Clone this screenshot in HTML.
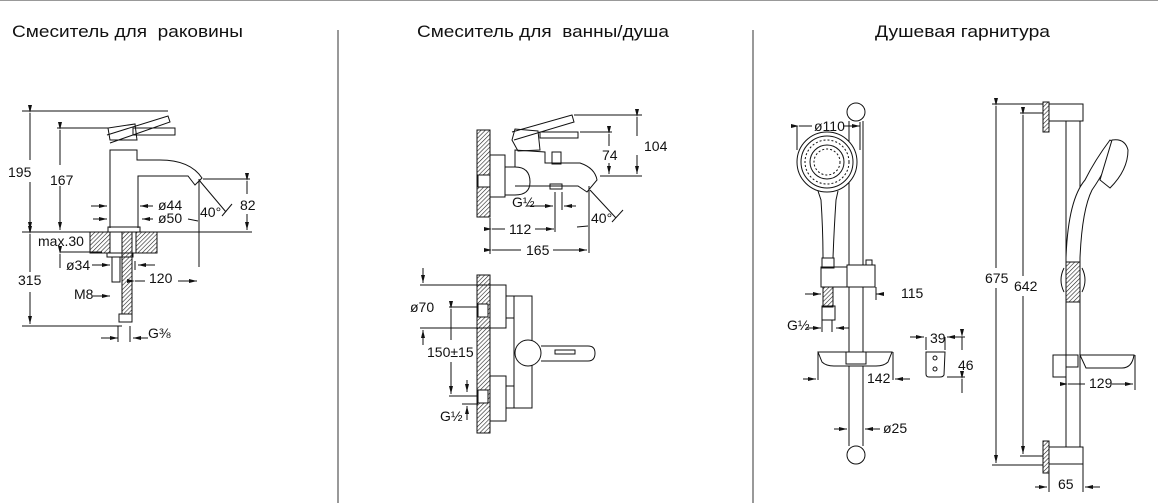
<!DOCTYPE html>
<html><head><meta charset="utf-8"><style>
html,body{margin:0;padding:0;background:#fff;}
svg{display:block;}
text{font-family:"Liberation Sans",sans-serif;fill:#111;}
.t{font-size:17px;}
.d{font-size:14px;}
</style></head><body>
<svg width="1158" height="503" viewBox="0 0 1158 503" xmlns="http://www.w3.org/2000/svg">
<defs>
<pattern id="h" width="3" height="3" patternUnits="userSpaceOnUse" patternTransform="rotate(45)">
<line x1="0" y1="0" x2="0" y2="3" stroke="#222" stroke-width="1.2"/>
</pattern>
<marker id="a" markerWidth="8" markerHeight="6" refX="8" refY="3" orient="auto"><path d="M0,1 L8,3 L0,5z" fill="#111"/></marker>
</defs>
<line x1="0" y1="0.5" x2="1158" y2="0.5" stroke="#999"/>
<line x1="338" y1="30" x2="338" y2="503" stroke="#333"/>
<line x1="753" y1="30" x2="753" y2="503" stroke="#333"/>
<text class="t" x="12" y="37" textLength="231" lengthAdjust="spacingAndGlyphs">Смеситель для&#160;&#160;раковины</text>
<text class="t" x="417" y="37" textLength="252" lengthAdjust="spacingAndGlyphs">Смеситель для&#160;&#160;ванны/душа</text>
<text class="t" x="875" y="37" textLength="175" lengthAdjust="spacingAndGlyphs">Душевая гарнитура</text>

<g fill="none" stroke="#111" stroke-width="1">
<!-- Panel 1 -->
<line x1="22" y1="111" x2="168" y2="111"/>
<line x1="57" y1="128" x2="108" y2="128"/>
<line x1="22" y1="232" x2="252" y2="232"/>
<line x1="22" y1="326" x2="122" y2="326"/>
<line x1="30" y1="113" x2="30" y2="160" marker-start="url(#a)"/>
<line x1="30" y1="182" x2="30" y2="230" marker-end="url(#a)"/>
<line x1="60" y1="130" x2="60" y2="165" marker-start="url(#a)"/>
<line x1="60" y1="186" x2="60" y2="230" marker-end="url(#a)"/>
<line x1="30" y1="234" x2="30" y2="272" marker-start="url(#a)"/>
<line x1="30" y1="292" x2="30" y2="324" marker-end="url(#a)"/>
<path d="M110,228 V150 H137 V160 H160 Q190,160 202,178 L195,185 L188,176 H138 V228"/>
<path d="M110,140 L108,128 L135,124 L137,140 Z"/>
<path d="M107,135 L168,116 L170,122 L110,143"/>
<rect x="133" y="128" width="42" height="7"/>
<rect x="108" y="227" width="32" height="5"/>
<rect x="90" y="232" width="67" height="21" fill="url(#h)"/>
<rect x="110" y="232" width="26" height="21" fill="#fff"/>
<rect x="107" y="253" width="26" height="4"/>
<rect x="112" y="257" width="8" height="25"/>
<rect x="122" y="232" width="10" height="82" fill="url(#h)"/>
<rect x="119" y="314" width="13" height="8"/>
<line x1="199" y1="179" x2="199" y2="267"/>
<line x1="203" y1="179" x2="250" y2="179"/>
<line x1="247" y1="181" x2="247" y2="194" marker-start="url(#a)"/>
<line x1="247" y1="214" x2="247" y2="230" marker-end="url(#a)"/>
<line x1="199" y1="180" x2="226" y2="212"/><line x1="222" y1="216" x2="232" y2="204"/>
<line x1="91" y1="206" x2="107" y2="206" marker-end="url(#a)"/>
<line x1="153" y1="206" x2="140" y2="206" marker-end="url(#a)"/>
<line x1="93" y1="219" x2="107" y2="219" marker-end="url(#a)"/>
<line x1="153" y1="219" x2="142" y2="219" marker-end="url(#a)"/>
<line x1="188" y1="219" x2="198" y2="221"/>
<line x1="60" y1="252" x2="102" y2="252"/>
<line x1="60" y1="254" x2="60" y2="268" marker-start="url(#a)"/>
<line x1="92" y1="265" x2="110" y2="265" marker-end="url(#a)"/>
<line x1="155" y1="265" x2="138" y2="265" marker-end="url(#a)"/>
<line x1="135" y1="261" x2="135" y2="270"/>
<line x1="135" y1="281" x2="145" y2="281" marker-start="url(#a)"/>
<line x1="178" y1="281" x2="197" y2="281" marker-end="url(#a)"/>
<line x1="93" y1="296" x2="110" y2="296" marker-end="url(#a)"/>
<line x1="101" y1="338" x2="118" y2="338" marker-end="url(#a)"/>
<line x1="148" y1="338" x2="133" y2="338" marker-end="url(#a)"/>
<line x1="118" y1="326" x2="118" y2="342"/><line x1="130" y1="326" x2="130" y2="342"/>

<!-- Panel 2 top -->
<rect x="477" y="130" width="13" height="87" fill="url(#h)"/>
<rect x="478" y="175" width="12" height="12" fill="#fff"/>
<rect x="490" y="155" width="15" height="42"/>
<path d="M505,167 H515 Q530,167 530,182 Q530,195 515,195 H505"/>
<path d="M515,167 V150 L545,152 V163 H580 Q595,168 597,180 L587,192 L578,186 H515"/>
<rect x="552" y="152" width="9" height="12"/>
<rect x="550" y="184" width="12" height="5"/>
<path d="M512,140 L515,129 L538,131 L540,150 L518,151 Z"/>
<path d="M512,132 L572,115 L574,122 L514,140"/>
<rect x="540" y="132" width="38" height="6"/>
<line x1="574" y1="115" x2="642" y2="115"/>
<line x1="580" y1="132" x2="612" y2="132"/>
<line x1="600" y1="176" x2="642" y2="176"/>
<line x1="637" y1="117" x2="637" y2="136" marker-start="url(#a)"/>
<line x1="637" y1="155" x2="637" y2="174" marker-end="url(#a)"/>
<line x1="609" y1="134" x2="609" y2="146" marker-start="url(#a)"/>
<line x1="609" y1="163" x2="609" y2="174" marker-end="url(#a)"/>
<line x1="589" y1="186" x2="589" y2="253"/>
<line x1="590" y1="190" x2="616" y2="218"/><line x1="612" y1="222" x2="623" y2="210"/>
<line x1="490" y1="218" x2="490" y2="254"/>
<line x1="555" y1="192" x2="555" y2="232"/>
<line x1="562" y1="192" x2="562" y2="210"/>
<line x1="527" y1="206" x2="553" y2="206" marker-end="url(#a)"/>
<line x1="576" y1="206" x2="564" y2="206" marker-end="url(#a)"/>
<line x1="492" y1="229" x2="505" y2="229" marker-start="url(#a)"/>
<line x1="535" y1="229" x2="554" y2="229" marker-end="url(#a)"/>
<line x1="492" y1="250" x2="521" y2="250" marker-start="url(#a)"/>
<line x1="553" y1="250" x2="587" y2="250" marker-end="url(#a)"/>
<line x1="577" y1="227" x2="588" y2="226"/>
<!-- Panel 2 bottom -->
<rect x="477" y="275" width="13" height="158" fill="url(#h)"/>
<rect x="478" y="304" width="10" height="13" fill="#fff"/>
<rect x="478" y="390" width="10" height="13" fill="#fff"/>
<rect x="490" y="285" width="16" height="43"/>
<rect x="490" y="376" width="16" height="45"/>
<rect x="506" y="296" width="8" height="22"/>
<rect x="506" y="386" width="8" height="22"/>
<rect x="514" y="296" width="18" height="112"/>
<circle cx="528" cy="353" r="13" fill="#fff"/>
<path d="M541,346 H588 Q595,346 595,353 Q595,361 588,361 H541"/>
<rect x="555" y="350" width="20" height="4"/>
<line x1="420" y1="285" x2="490" y2="285"/>
<line x1="420" y1="328" x2="490" y2="328"/>
<line x1="449" y1="307" x2="478" y2="307"/>
<line x1="449" y1="396" x2="478" y2="396"/>
<line x1="423" y1="268" x2="423" y2="283" marker-end="url(#a)"/>
<line x1="423" y1="345" x2="423" y2="330" marker-end="url(#a)"/>
<line x1="451" y1="309" x2="451" y2="340" marker-start="url(#a)"/>
<line x1="451" y1="362" x2="451" y2="394" marker-end="url(#a)"/>
<line x1="467" y1="380" x2="467" y2="392" marker-end="url(#a)"/>
<line x1="467" y1="420" x2="467" y2="406" marker-end="url(#a)"/>
<line x1="462" y1="404" x2="478" y2="404"/>

<!-- Panel 3 left -->
<circle cx="856" cy="112" r="9" fill="#fff"/>
<circle cx="856" cy="455" r="9" fill="#fff"/>
<line x1="849" y1="121" x2="849" y2="446"/>
<line x1="863" y1="121" x2="863" y2="446"/>
<rect x="847" y="265" width="28" height="22" fill="#fff"/>
<rect x="821" y="267" width="26" height="20" fill="#fff"/>
<rect x="866" y="260" width="6" height="5"/>
<circle cx="827" cy="162" r="30" fill="#fff"/>
<circle cx="827" cy="162" r="26"/>
<circle cx="827" cy="162" r="17"/>
<circle cx="827" cy="162" r="13" stroke-dasharray="2 2"/>
<circle cx="827" cy="162" r="22" stroke-dasharray="2 2"/>
<path d="M818,191 L821,200 Q823,230 823,258 H833 Q834,230 836,200 L838,191"/>
<rect x="822" y="258" width="12" height="10"/>
<rect x="823" y="287" width="10" height="20" fill="url(#h)"/>
<rect x="822" y="306" width="13" height="14"/>
<line x1="797" y1="126" x2="797" y2="150"/>
<line x1="799" y1="126" x2="812" y2="126" marker-start="url(#a)"/>
<line x1="843" y1="126" x2="860" y2="126" marker-end="url(#a)"/>
<line x1="860" y1="122" x2="860" y2="150"/>
<line x1="805" y1="294" x2="821" y2="294" marker-end="url(#a)"/>
<line x1="882" y1="294" x2="876" y2="294" marker-end="url(#a)"/>
<line x1="876" y1="287" x2="876" y2="300"/>
<line x1="806" y1="328" x2="821" y2="328" marker-end="url(#a)"/>
<line x1="849" y1="328" x2="836" y2="328" marker-end="url(#a)"/>
<line x1="822" y1="320" x2="822" y2="332"/><line x1="832" y1="320" x2="832" y2="332"/>
<path d="M818,352 H892 L888,362 Q884,366 876,366 H834 Q826,366 822,362 Z" fill="#fff"/>
<rect x="846" y="352" width="20" height="12"/>
<line x1="818" y1="352" x2="818" y2="380"/><line x1="893" y1="352" x2="893" y2="380"/>
<line x1="803" y1="379" x2="816" y2="379" marker-end="url(#a)"/>
<line x1="910" y1="379" x2="895" y2="379" marker-end="url(#a)"/>
<line x1="834" y1="429" x2="847" y2="429" marker-end="url(#a)"/>
<line x1="880" y1="429" x2="865" y2="429" marker-end="url(#a)"/>
<path d="M926,352 H945 L944,375 Q943,377 940,377 H929 Q926,377 926,374 Z"/>
<circle cx="935" cy="358" r="2"/><circle cx="935" cy="369" r="2"/>
<line x1="926" y1="337" x2="926" y2="350"/><line x1="945" y1="337" x2="945" y2="350"/>
<line x1="910" y1="337" x2="924" y2="337" marker-end="url(#a)"/>
<line x1="962" y1="337" x2="947" y2="337" marker-end="url(#a)"/>
<line x1="947" y1="337" x2="965" y2="337"/>
<line x1="947" y1="377" x2="965" y2="377"/>
<line x1="962" y1="337" x2="962" y2="350" marker-start="url(#a)"/>
<line x1="962" y1="379" x2="962" y2="393" marker-start="url(#a)"/>

<!-- Panel 3 right -->
<rect x="1043" y="102" width="6" height="30" fill="url(#h)"/>
<rect x="1043" y="441" width="6" height="32" fill="url(#h)"/>
<rect x="1049" y="104" width="34" height="17"/>
<rect x="1049" y="447" width="34" height="17"/>
<path d="M1066,121 V447 M1080,121 V447"/>
<line x1="992" y1="104" x2="1043" y2="104"/>
<line x1="992" y1="465" x2="1043" y2="465"/>
<line x1="1020" y1="113" x2="1043" y2="113"/>
<line x1="1020" y1="456" x2="1043" y2="456"/>
<line x1="996" y1="106" x2="996" y2="268" marker-start="url(#a)"/>
<line x1="996" y1="288" x2="996" y2="463" marker-end="url(#a)"/>
<line x1="1023" y1="115" x2="1023" y2="276" marker-start="url(#a)"/>
<line x1="1023" y1="296" x2="1023" y2="454" marker-end="url(#a)"/>
<path d="M1066,258 Q1068,200 1085,180 Q1095,160 1110,140 L1116,144 Q1106,170 1092,190 Q1082,210 1080,258" fill="#fff"/>
<path d="M1112,140 Q1125,138 1128,150 Q1128,170 1110,188 L1100,180 Z" fill="#fff"/>
<rect x="1066" y="262" width="14" height="40" fill="url(#h)"/>
<path d="M1064,268 Q1058,280 1064,292 M1082,268 Q1088,280 1082,292"/>
<rect x="1053" y="355" width="13" height="22"/>
<path d="M1080,355 H1134 Q1132,368 1122,368 H1086 Z"/>
<rect x="1066" y="355" width="12" height="12"/>
<line x1="1135" y1="355" x2="1135" y2="390"/>
<line x1="1068" y1="384" x2="1085" y2="384" marker-start="url(#a)"/>
<line x1="1112" y1="384" x2="1133" y2="384" marker-end="url(#a)"/>
<line x1="1035" y1="487" x2="1047" y2="487" marker-end="url(#a)"/>
<line x1="1100" y1="487" x2="1085" y2="487" marker-end="url(#a)"/>
<line x1="1083" y1="464" x2="1083" y2="492"/><line x1="1049" y1="464" x2="1049" y2="492"/>
</g>

<g>
<text class="d" x="8" y="177">195</text>
<text class="d" x="50" y="185">167</text>
<text class="d" x="158" y="210">ø44</text>
<text class="d" x="158" y="223">ø50</text>
<text class="d" x="200" y="217">40°</text>
<text class="d" x="240" y="210">82</text>
<text class="d" x="38" y="246">max.30</text>
<text class="d" x="66" y="270">ø34</text>
<text class="d" x="149" y="283">120</text>
<text class="d" x="18" y="285">315</text>
<text class="d" x="74" y="299">M8</text>
<text class="d" x="148" y="338">G⅜</text>
<text class="d" x="644" y="151">104</text>
<text class="d" x="602" y="160">74</text>
<text class="d" x="512" y="207">G½</text>
<text class="d" x="591" y="223">40°</text>
<text class="d" x="509" y="234">112</text>
<text class="d" x="526" y="255">165</text>
<text class="d" x="410" y="312">ø70</text>
<text class="d" x="427" y="357">150±15</text>
<text class="d" x="440" y="421">G½</text>
<text class="d" x="814" y="131">ø110</text>
<text class="d" x="901" y="298">115</text>
<text class="d" x="787" y="330">G½</text>
<text class="d" x="930" y="343">39</text>
<text class="d" x="958" y="370">46</text>
<text class="d" x="867" y="383">142</text>
<text class="d" x="883" y="433">ø25</text>
<text class="d" x="985" y="283">675</text>
<text class="d" x="1014" y="291">642</text>
<text class="d" x="1089" y="388">129</text>
<text class="d" x="1058" y="489">65</text>
</g>
</svg>
</body></html>
